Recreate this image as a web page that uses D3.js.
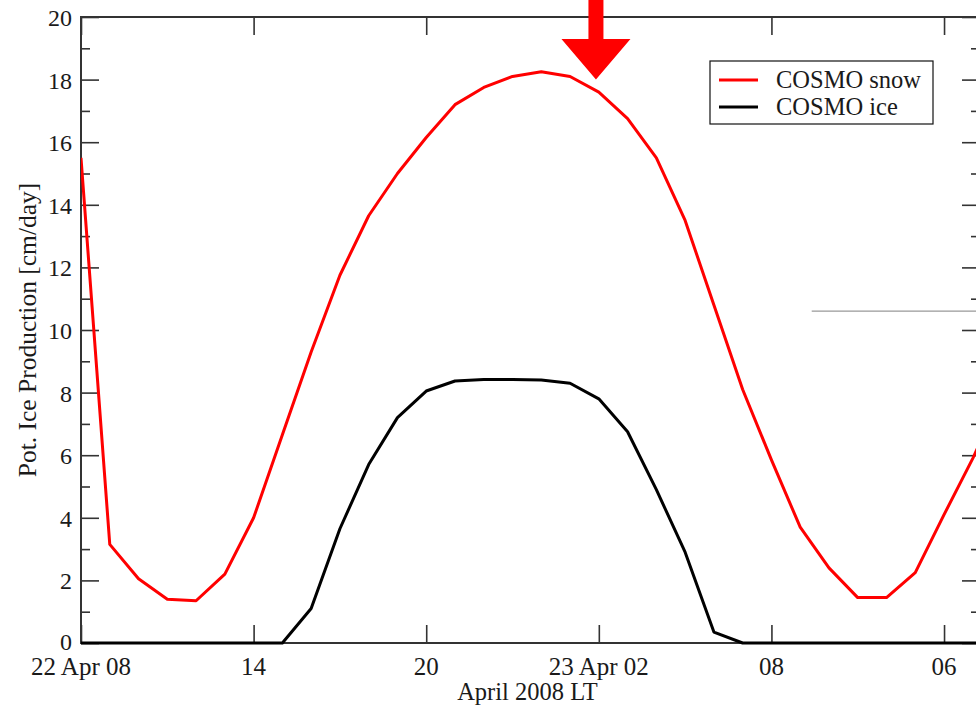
<!DOCTYPE html>
<html>
<head>
<meta charset="utf-8">
<script src="https://cdn.jsdelivr.net/npm/d3@7"></script>
<style>
    body { margin: 0; background: #fff; }
    text { font-family: "Liberation Serif", "DejaVu Serif", serif; fill: #1a1a1a; }
</style>
</head>
<body>
<script>
// hours since 22 Apr 08 LT, one sample per hour
var hours = d3.range(0, 33);

// COSMO snow, cm/day
var snowValues = [15.5, 3.15, 2.05, 1.4, 1.35, 2.2, 4.0, 6.65, 9.3, 11.75, 13.65, 15.0, 16.15, 17.2, 17.75, 18.1, 18.25,
    18.1, 17.6, 16.75, 15.5, 13.5, 10.8, 8.1, 5.85, 3.7, 2.4, 1.45, 1.45, 2.25, 4.1, 5.9, 7.9];

// COSMO ice, cm/day
var iceValues = [0, 0, 0, 0, 0, 0, 0, 0, 1.1, 3.65, 5.7, 7.2, 8.05, 8.37, 8.42, 8.42, 8.4,
    8.3, 7.8, 6.75, 4.9, 2.9, 0.35, 0, 0, 0, 0, 0, 0, 0, 0, 0, 0];

var seriesNames = ["COSMO snow", "COSMO ice"];
var seriesColors = ["#ff0000", "#000000"];

// x tick positions (hours) and their labels, as printed on the original
var xTickHours = [0, 6, 12, 18, 24, 30];
var xTickLabels = ["22 Apr 08", "14", "20", "23 Apr 02", "08", "06"];

var yMajorTicks = [0, 2, 4, 6, 8, 10, 12, 14, 16, 18, 20];
var yMinorTicks = [1, 3, 5, 7, 9, 11, 13, 15, 17, 19];

// red arrow annotation: hour it points at, tip value, head base value
var arrowHour = 17.9, arrowTip = 18.0, arrowHeadBase = 19.3;

// stray grey rule on the right of the original scan
var strayLine = {from: 25.4, to: 31.3, value: 10.6};

window.onload = function(){
    var w = 976, h = 714;
    var left = 81, right = 980, top = 17, bottom = 643;

    var svg = d3.select("body")
        .append("svg")
        .attr("width", w)
        .attr("height", h)
        .style("display", "block");

    var x = d3.scaleLinear()
        .domain([0, 31.25])
        .range([left, right]);

    var y = d3.scaleLinear()
        .domain([0, 20])
        .range([bottom, top]);

    var axisColor = "#333";

    // major ticks 18px, minor 9px, all pointing into the frame
    function styleAxis(g){
        g.select(".domain").remove();
        g.selectAll(".tick line").attr("stroke", axisColor).attr("stroke-width", 1.6);
    }

    // left axis with labels
    svg.append("g")
        .attr("transform", "translate(" + left + ",0)")
        .call(d3.axisRight(y).tickValues(yMajorTicks).tickSize(18).tickFormat(""))
        .call(styleAxis);
    svg.append("g")
        .attr("transform", "translate(" + left + ",0)")
        .call(d3.axisRight(y).tickValues(yMinorTicks).tickSize(9).tickFormat(""))
        .call(styleAxis);

    svg.selectAll(".ylabel")
        .data(yMajorTicks)
        .enter()
        .append("text")
        .attr("class", "ylabel")
        .attr("x", left - 9)
        .attr("y", function(d){ return y(d) + (d === 0 ? 7 : 9); })
        .attr("text-anchor", "end")
        .style("font-size", "24px")
        .text(function(d){ return d; });

    // right axis (mirror, no labels)
    svg.append("g")
        .attr("transform", "translate(" + right + ",0)")
        .call(d3.axisLeft(y).tickValues(yMajorTicks).tickSize(18).tickFormat(""))
        .call(styleAxis);
    svg.append("g")
        .attr("transform", "translate(" + right + ",0)")
        .call(d3.axisLeft(y).tickValues(yMinorTicks).tickSize(9).tickFormat(""))
        .call(styleAxis);

    // bottom and top ticks
    svg.append("g")
        .attr("transform", "translate(0," + bottom + ")")
        .call(d3.axisTop(x).tickValues(xTickHours).tickSize(18).tickFormat(""))
        .call(styleAxis);
    svg.append("g")
        .attr("transform", "translate(0," + top + ")")
        .call(d3.axisBottom(x).tickValues(xTickHours).tickSize(18).tickFormat(""))
        .call(styleAxis);

    svg.selectAll(".xlabel")
        .data(xTickHours)
        .enter()
        .append("text")
        .attr("class", "xlabel")
        .attr("x", function(d){ return x(d); })
        .attr("y", bottom + 32)
        .attr("text-anchor", "middle")
        .style("font-size", "25px")
        .text(function(d, i){ return xTickLabels[i]; });

    // frame
    svg.append("rect")
        .attr("x", left)
        .attr("y", top)
        .attr("width", right - left)
        .attr("height", bottom - top)
        .attr("fill", "none")
        .attr("stroke", axisColor)
        .attr("stroke-width", 2);

    // stray grey rule
    svg.append("line")
        .attr("x1", x(strayLine.from))
        .attr("x2", x(strayLine.to))
        .attr("y1", y(strayLine.value))
        .attr("y2", y(strayLine.value))
        .attr("stroke", "#999")
        .attr("stroke-width", 1.2);

    // series lines
    var line = d3.line()
        .x(function(d){ return x(d.hour); })
        .y(function(d){ return y(d.value); });

    var series = [snowValues, iceValues].map(function(vals, i){
        return {
            name: seriesNames[i],
            color: seriesColors[i],
            points: hours.map(function(hr, k){ return {hour: hr, value: vals[k]}; })
        };
    });

    svg.append("clipPath")
        .attr("id", "plotclip")
        .append("rect")
        .attr("x", left)
        .attr("y", 0)
        .attr("width", right - left)
        .attr("height", bottom + 2);

    svg.selectAll(".series")
        .data(series)
        .enter()
        .append("path")
        .attr("class", "series")
        .attr("clip-path", "url(#plotclip)")
        .attr("d", function(d){ return line(d.points); })
        .attr("fill", "none")
        .attr("stroke", function(d){ return d.color; })
        .attr("stroke-width", 3)
        .attr("stroke-linejoin", "round");

    // legend
    var legend = svg.append("g")
        .attr("transform", "translate(710,61)");
    legend.append("rect")
        .attr("width", 223)
        .attr("height", 63)
        .attr("fill", "#fff")
        .attr("stroke", "#111")
        .attr("stroke-width", 1.2);
    var items = legend.selectAll(".item")
        .data(series)
        .enter()
        .append("g")
        .attr("class", "item")
        .attr("transform", function(d, i){ return "translate(0," + (19 + i * 27) + ")"; });
    items.append("line")
        .attr("x1", 9)
        .attr("x2", 48)
        .attr("stroke", function(d){ return d.color; })
        .attr("stroke-width", 3);
    items.append("text")
        .attr("x", 66)
        .attr("y", 8)
        .style("font-size", "24.5px")
        .text(function(d){ return d.name; });

    // red arrow pointing at the snow maximum
    var ax = x(arrowHour);
    var arrow = d3.path();
    arrow.moveTo(ax - 7.5, 0);
    arrow.lineTo(ax + 7.5, 0);
    arrow.lineTo(ax + 7.5, y(arrowHeadBase));
    arrow.lineTo(ax + 34.5, y(arrowHeadBase));
    arrow.lineTo(ax, y(arrowTip));
    arrow.lineTo(ax - 34.5, y(arrowHeadBase));
    arrow.lineTo(ax - 7.5, y(arrowHeadBase));
    arrow.closePath();
    svg.append("path")
        .attr("d", arrow.toString())
        .attr("fill", "#ff0000");

    // axis titles
    svg.append("text")
        .attr("x", (left + 976) / 2 - 1)
        .attr("y", 700)
        .attr("text-anchor", "middle")
        .style("font-size", "24.5px")
        .text("April 2008 LT");

    svg.append("text")
        .attr("transform", "translate(36," + ((top + bottom) / 2) + ") rotate(-90)")
        .attr("text-anchor", "middle")
        .style("font-size", "25.5px")
        .text("Pot. Ice Production [cm/day]");
};
</script>
</body>
</html>
